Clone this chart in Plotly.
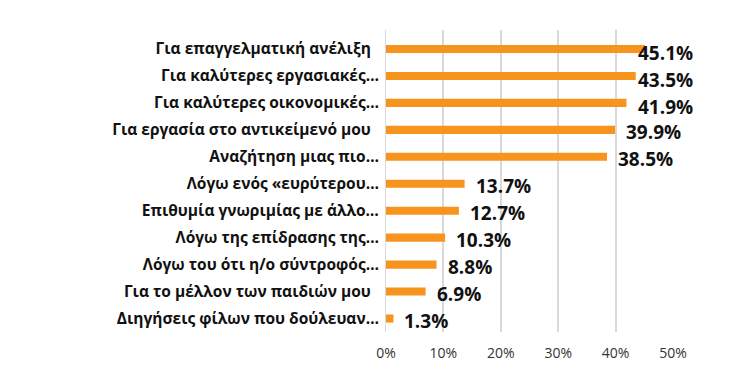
import plotly.graph_objects as go

categories = [
    "Για επαγγελματική ανέλιξη\u00a0\u00a0",
    "Για καλύτερες εργασιακές…",
    "Για καλύτερες οικονομικές…",
    "Για εργασία στο αντικείμενό μου\u00a0\u00a0",
    "Αναζήτηση μιας πιο…",
    "Λόγω ενός «ευρύτερου…",
    "Επιθυμία γνωριμίας με άλλο…",
    "Λόγω της επίδρασης της…",
    "Λόγω του ότι η/ο σύντροφός…",
    "Για το μέλλον των παιδιών μου\u00a0\u00a0",
    "Διηγήσεις φίλων που δούλευαν…",
]
values = [45.1, 43.5, 41.9, 39.9, 38.5, 13.7, 12.7, 10.3, 8.8, 6.9, 1.3]
value_labels = ["45.1%", "43.5%", "41.9%", "39.9%", "38.5%", "13.7%", "12.7%", "10.3%", "8.8%", "6.9%", "1.3%"]
tick_vals = [0, 10, 20, 30, 40, 50]
tick_text = ["0%", "10%", "20%", "30%", "40%", "50%"]

LABEL_CAP = 42.0  # labels cannot run past chart edge

fig = go.Figure(go.Bar(
    x=values, y=categories, orientation="h",
    marker=dict(color="#F7941D", line=dict(width=0)),
    width=0.3, hoverinfo="skip",
))

for c, v, t in zip(categories, values, value_labels):
    fig.add_annotation(
        x=min(v, LABEL_CAP), y=c, xref="x", yref="y", text=t, showarrow=False,
        xanchor="left", yanchor="middle", xshift=9, yshift=-4 if v > 41 else -2,
        font=dict(family="Open Sans", size=19, color="#111111", weight="bold"),
    )

fig.update_layout(
    width=749, height=371,
    margin=dict(l=386, r=76, t=30, b=39),
    paper_bgcolor="white", plot_bgcolor="white",
    showlegend=False,
    font=dict(family="Open Sans", color="#222222"),
    xaxis=dict(range=[0, 50], tickvals=tick_vals, ticktext=tick_text,
               showgrid=True, gridcolor="#D9D9D9", gridwidth=1.5,
               zeroline=False, showline=False, ticks="", automargin=False,
               tickfont=dict(size=14, color="#333333"), ticklabelstandoff=11),
    yaxis=dict(autorange="reversed", showgrid=False, ticks="", automargin=False,
               showline=True, linecolor="#D9D9D9", linewidth=1,
               tickfont=dict(size=15.5, color="#111111", weight="bold"),
               ticklabelstandoff=3),
)

fig.write_html("out.html", config={"displayModeBar": False},
               post_script="document.body.style.margin='0';document.body.style.padding='0';")
